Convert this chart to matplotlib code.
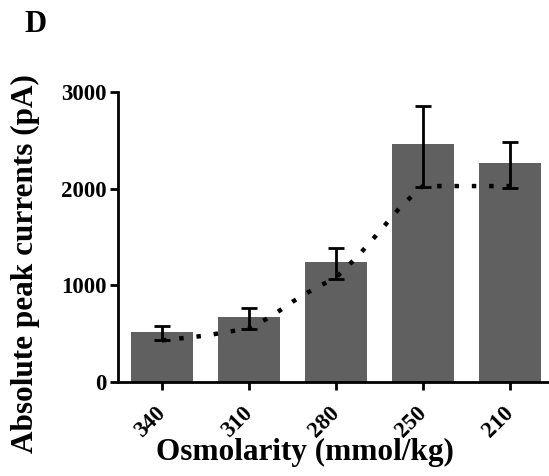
import matplotlib
matplotlib.use('Agg')
import matplotlib.pyplot as plt
import numpy as np

# data
osmolarity = ['340', '310', '280', '250', '210']
peak_current = [520, 675, 1238, 2458, 2262]
err_low = [86, 130, 176, 438, 253]
err_high = [59, 93, 145, 396, 217]

# dotted trend line
trend_x = [0, 0.5, 1, 1.25, 1.5, 1.75, 2, 2.25, 2.5, 2.75, 3, 4]
trend_y = [430, 480, 555, 675, 830, 965, 1080, 1300, 1555, 1820, 2027, 2027]

plt.rcParams['font.family'] = ['Liberation Serif', 'DejaVu Serif']
plt.rcParams['font.weight'] = 'bold'

W, H = 549, 476
fig = plt.figure(figsize=(W / 100, H / 100), dpi=100)
ax = fig.add_axes([118 / W, (H - 382) / H, (W - 118) / W, 290 / H])

x = np.arange(len(osmolarity))
ax.bar(x, peak_current, width=0.71, color='#606060', zorder=1)
ax.errorbar(x, peak_current, yerr=[err_low, err_high], fmt='none',
            ecolor='black', elinewidth=2, capsize=5.5, capthick=2, zorder=3)
ax.plot(trend_x, trend_y, color='black', lw=3.2, linestyle=(0, (1, 2.9)), zorder=2)

ax.set_xlim(-0.506, 4.45)
ax.set_ylim(0, 3000)
ax.set_yticks([0, 1000, 2000, 3000])
ax.set_xticks(x)
ax.set_xticklabels(osmolarity, rotation=45, ha='right', va='center',
                   rotation_mode='anchor', fontsize=16.5, fontweight='bold')
for lab in ax.get_yticklabels():
    lab.set_fontsize(16.5)
    lab.set_fontweight('bold')

for s in ['top', 'right']:
    ax.spines[s].set_visible(False)
for s in ['left', 'bottom']:
    ax.spines[s].set_linewidth(2)
ax.tick_params(width=2, length=6, direction='out')
ax.tick_params(axis='x', pad=14)
ax.tick_params(axis='y', pad=2)

ax.set_ylabel('Absolute peak currents (pA)', fontsize=22.5, fontweight='bold')
ax.set_xlabel('Osmolarity (mmol/kg)', fontsize=22.5, fontweight='bold')
ax.xaxis.set_label_coords(0.434, -0.192)
ax.yaxis.set_label_coords(-0.181, 0.407)

fig.text(24 / W, 1 - 32 / H, 'D', fontsize=22, fontweight='bold')

fig.savefig('out.png', dpi=100)
